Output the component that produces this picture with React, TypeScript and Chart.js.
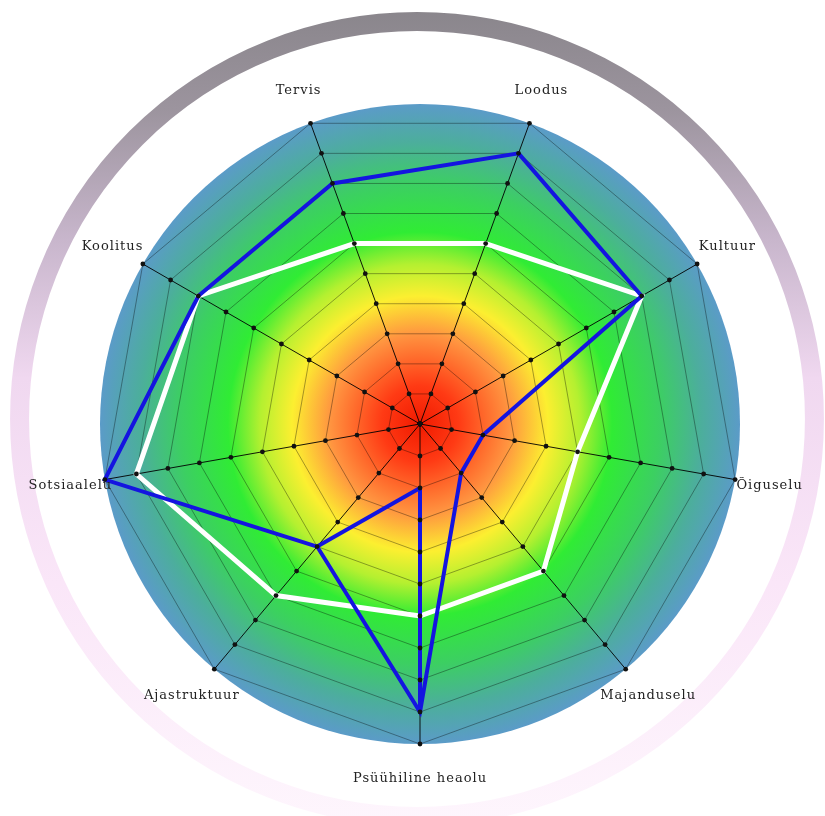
import React, { useEffect, useRef } from 'react';
import { Chart, registerables } from 'chart.js';

Chart.register(...registerables);

// ---- data ----
const axisLabels = [
  'Loodus',
  'Kultuur',
  'Õiguselu',
  'Majanduselu',
  'Psüühiline heaolu',
  'Ajastruktuur',
  'Sotsiaalelu',
  'Koolitus',
  'Tervis',
];
const whiteValues = [6, 8, 5, 6, 6, 7, 9, 8, 6];
const blueValues = [9, 8, 2, 2, 9, 5, 10, 8, 8];
// the blue path doubles back on "Psüühiline heaolu": 9 -> 2 -> Ajastruktuur
const blueDetourIndex = 4;
const blueDetourValue = 2;
const scaleMin = 0;
const scaleMax = 10;
const scaleStep = 1;

const BLUE = '#1414e0';

const decorPlugin = {
  id: 'decor',
  beforeDraw(chart: any) {
    const ctx = chart.ctx;
    const s = chart.scales.r;
    const cx = s.xCenter;
    const cy = s.yCenter;
    const R = s.drawingArea;
    ctx.save();
    // outer ring
    const rcx = cx - 3;
    const rcy = cy - 5;
    const rr = R * 1.242;
    const lg = ctx.createLinearGradient(0, rcy - rr - 10, 0, rcy + rr + 10);
    lg.addColorStop(0, '#8a868c');
    lg.addColorStop(0.12, '#9c949e');
    lg.addColorStop(0.28, '#c8b6cc');
    lg.addColorStop(0.45, '#f0d8f0');
    lg.addColorStop(0.7, '#fae6f8');
    lg.addColorStop(1, '#fef6fd');
    ctx.beginPath();
    ctx.arc(rcx, rcy, rr, 0, Math.PI * 2);
    ctx.strokeStyle = lg;
    ctx.lineWidth = 19;
    ctx.stroke();
    // radial background disc
    const rg = ctx.createRadialGradient(cx, cy, 0, cx, cy, R);
    rg.addColorStop(0, '#f01a00');
    rg.addColorStop(0.12, '#ff3a14');
    rg.addColorStop(0.28, '#ff9440');
    rg.addColorStop(0.4, '#fcef30');
    rg.addColorStop(0.5, '#b4f030');
    rg.addColorStop(0.6, '#30ec34');
    rg.addColorStop(0.75, '#3ccf62');
    rg.addColorStop(0.88, '#4cae9c');
    rg.addColorStop(1, '#5b9bc8');
    ctx.beginPath();
    ctx.arc(cx, cy, R, 0, Math.PI * 2);
    ctx.fillStyle = rg;
    ctx.fill();
    ctx.restore();
  },
  afterDatasetsDraw(chart: any) {
    const ctx = chart.ctx;
    const s = chart.scales.r;
    const R = s.drawingArea;
    ctx.save();
    // blue doubling-back connector along the axis
    const a = chart.getDatasetMeta(0).data[blueDetourIndex];
    const b = chart.getDatasetMeta(1).data[blueDetourIndex];
    if (a && b) {
      ctx.beginPath();
      ctx.moveTo(a.x, a.y);
      ctx.lineTo(b.x, b.y);
      ctx.strokeStyle = BLUE;
      ctx.lineWidth = 4;
      ctx.lineCap = 'butt';
      ctx.stroke();
    }
    // tick dots on every axis
    ctx.fillStyle = '#111';
    for (let i = 0; i < axisLabels.length; i++) {
      for (let v = scaleMin; v <= scaleMax; v += scaleStep) {
        const p = s.getPointPositionForValue(i, v);
        ctx.beginPath();
        ctx.arc(p.x, p.y, 2.4, 0, Math.PI * 2);
        ctx.fill();
      }
    }
    // axis labels
    ctx.font = "13px 'DejaVu Serif'";
    (ctx as any).letterSpacing = '1px';
    ctx.fillStyle = '#222';
    ctx.textAlign = 'center';
    ctx.textBaseline = 'middle';
    for (let i = 0; i < axisLabels.length; i++) {
      const p = s.getPointPosition(i, R + 35);
      ctx.fillText(axisLabels[i], p.x, p.y);
    }
    ctx.restore();
  },
};

export default function App() {
  const ref = useRef<HTMLCanvasElement | null>(null);
  useEffect(() => {
    if (!ref.current) return;
    const detour = blueValues.map((v, i) =>
      i === blueDetourIndex ? blueDetourValue : i === blueDetourIndex + 1 ? v : null
    );
    const chart = new Chart(ref.current, {
      type: 'radar',
      data: {
        labels: axisLabels,
        datasets: [
          {
            label: 'blue',
            data: blueValues,
            borderColor: BLUE,
            borderWidth: 4,
            pointRadius: 0,
            fill: false,
            borderJoinStyle: 'miter',
            segment: {
              borderColor: (c: any) => (c.p0DataIndex === blueDetourIndex ? 'rgba(0,0,0,0)' : undefined),
            },
          } as any,
          {
            label: 'blue detour',
            data: detour,
            borderColor: BLUE,
            borderWidth: 4,
            pointRadius: 0,
            fill: false,
            borderJoinStyle: 'miter',
          } as any,
          {
            label: 'white',
            data: whiteValues,
            borderColor: '#ffffff',
            borderWidth: 5,
            pointRadius: 0,
            fill: false,
            borderJoinStyle: 'miter',
          } as any,
        ],
      },
      options: {
        responsive: false,
        animation: false,
        layout: { padding: { left: 100, right: 85, top: 104, bottom: 72 } },
        plugins: { legend: { display: false }, tooltip: { enabled: false } },
        elements: { line: { tension: 0 } },
        scales: {
          r: {
            min: scaleMin,
            max: scaleMax,
            startAngle: 20,
            ticks: { display: false, stepSize: scaleStep },
            pointLabels: { display: false },
            grid: { color: 'rgba(0,0,0,0.35)', lineWidth: 1 },
            angleLines: { color: 'rgba(0,0,0,0.9)', lineWidth: 1 },
          },
        },
      },
      plugins: [decorPlugin],
    } as any);
    return () => chart.destroy();
  }, []);
  return (
    <div style={{ position: 'absolute', left: 0, top: 0, width: 825, height: 816, background: '#fff' }}>
      <canvas ref={ref} width={825} height={816} style={{ display: 'block' }} />
    </div>
  );
}
